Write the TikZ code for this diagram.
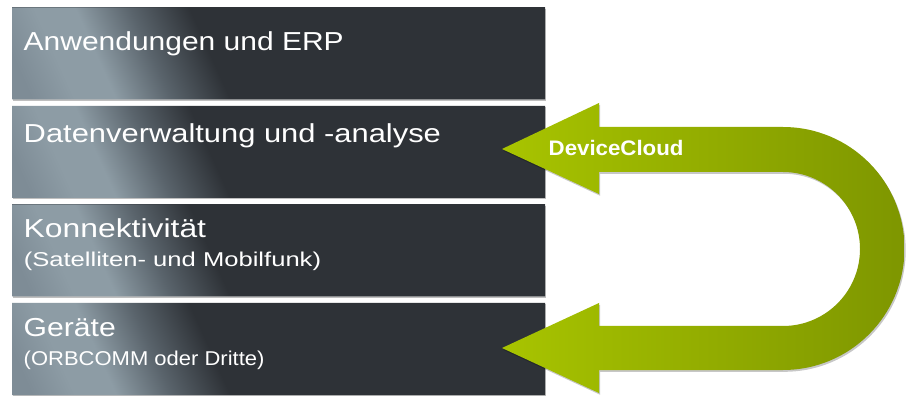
\documentclass[tikz,border=0pt]{standalone}
\usepackage{fontspec}
\setmainfont{Liberation Sans}
\newfontfamily\dcfont{Liberation Sans}[FakeStretch=1.06]
\usetikzlibrary{shadows}
\definecolor{bxa}{RGB}{126,140,150}
\definecolor{bxb}{RGB}{141,156,165}
\definecolor{bxm}{RGB}{90,100,108}
\definecolor{bxd}{RGB}{46,50,55}
\definecolor{gra}{RGB}{168,196,0}
\definecolor{grb}{RGB}{126,150,0}
\pgfdeclarehorizontalshading{boxsh}{100bp}{color(0bp)=(bxa); color(27.1bp)=(bxa); color(30.8bp)=(bxb); color(34.3bp)=(bxb); color(39bp)=(bxm); color(44.1bp)=(bxd); color(100bp)=(bxd)}
% #1 = centre y of the layer (in px, downwards)
\newcommand\layershade[1]{%
  \begin{scope}
    \clip (12,#1-46) rectangle (545,#1+46);
    \begin{scope}[transform canvas={xshift=-0.45*#1 pt, xslant=-0.45}]
      \shade[shading=boxsh] (-13,#1-46) rectangle (570,#1+46);
    \end{scope}
  \end{scope}}
\begin{document}
\begin{tikzpicture}[x=1pt,y=-1pt,
  layer/.style={fill=bxd, minimum width=533pt, minimum height=92pt, inner sep=0pt, draw=none,
    drop shadow={shadow xshift=0.6pt, shadow yshift=-1.2pt, opacity=0.25, fill=black}},
  ttl/.style={anchor=base west, inner sep=0pt, text=white, transform shape, font=\fontsize{26}{30}\selectfont},
  subttl/.style={anchor=base west, inner sep=0pt, text=white, transform shape, font=\fontsize{20}{24}\selectfont},
  uarrow/.style={left color=gra, right color=grb, draw=none,
    drop shadow={shadow xshift=1.2pt, shadow yshift=-1.8pt, opacity=0.22, fill=black}},
  dclabel/.style={anchor=base west, inner sep=0pt, text=white, font=\dcfont\bfseries\fontsize{21}{24}\selectfont}
]
\useasboundingbox[fill=white] (0,0) rectangle (911,398);
% layers
\node[layer] (b1) at (278.5,53.5) {};
\node[layer] (b2) at (278.5,152) {};
\node[layer] (b3) at (278.5,250.5) {};
\node[layer] (b4) at (278.5,349) {};
\layershade{53.5}
\layershade{152}
\layershade{250.5}
\layershade{349}
% texts
\node[ttl, xscale=1.153] (t1) at (23.5,51) {Anwendungen und ERP};
\node[ttl, xscale=1.188] (t2) at (23.5,143) {Datenverwaltung und -analyse};
\node[ttl, xscale=1.225] (t3) at (23.5,238) {Konnektivität};
\node[subttl, xscale=1.28] (s3) at (23.5,266.5) {(Satelliten- und Mobilfunk)};
\node[ttl, xscale=1.158] (t4) at (23.5,336.5) {Geräte};
\node[subttl, xscale=1.10] (s4) at (23.5,365) {(ORBCOMM oder Dritte)};
% U-turn arrow
\path[uarrow] (502,149) -- (599,103) -- (599,127) -- (783,127)
  arc[start angle=-90, end angle=90, radius=121.5]
  -- (599,370) -- (599,393) -- (502,348) -- (599,303) -- (599,326) -- (783,326)
  arc[start angle=90, end angle=-90, radius=77]
  -- (599,172) -- (599,194) -- cycle;
\node[dclabel] (dc) at (548.5,156) {DeviceCloud};
\end{tikzpicture}
\end{document}
